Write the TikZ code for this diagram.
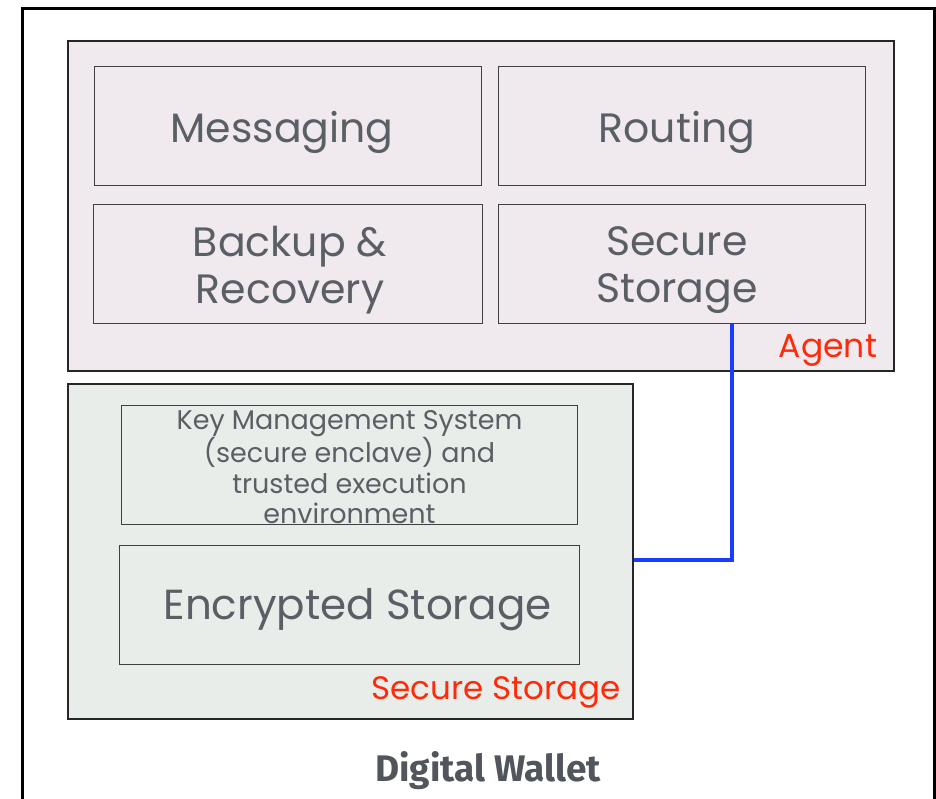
\documentclass[tikz,border=0pt]{standalone}
\usepackage{fontspec}
\setmainfont{Poppins}
\newfontfamily\titlefont{Fira Sans}
\definecolor{agentfill}{HTML}{F0E9EE}
\definecolor{ssfill}{HTML}{E8EDE9}
\definecolor{txtgray}{HTML}{5A5F66}
\definecolor{lblred}{HTML}{FF2A0A}
\definecolor{linkblue}{HTML}{1A3CFF}
\tikzset{
  outerbox/.style={draw=black!85, line width=1.8pt, inner sep=0pt},
  innerbox/.style={draw=black!75, line width=1pt, inner sep=0pt},
  boxtext/.style={text=txtgray, align=center, inner sep=0pt},
  redlabel/.style={text=lblred, inner sep=0pt, anchor=base},
}
\begin{document}
\begin{tikzpicture}[x=1pt,y=-1pt]
\useasboundingbox (0,0) rectangle (936,799);
% outer frame (open at bottom)
\draw[line width=3pt, black] (22,799) -- (22,9) -- (934,9) -- (934,799);
% Agent box
\node[outerbox, fill=agentfill, minimum width=826pt, minimum height=330pt, anchor=north west] (agent) at (67,40) {};
\node[innerbox, minimum width=387pt, minimum height=119pt, anchor=north west] (msg) at (94,66) {};
\node[innerbox, minimum width=367pt, minimum height=119pt, anchor=north west] (route) at (498,66) {};
\node[innerbox, minimum width=389pt, minimum height=119pt, anchor=north west] (backup) at (93,204) {};
\node[innerbox, minimum width=367pt, minimum height=119pt, anchor=north west] (sstore) at (498,204) {};
\node[boxtext, font=\fontsize{41}{46}\selectfont, xshift=-6pt, yshift=-6pt] (msgt) at (msg.center) {Messaging};
\node[boxtext, font=\fontsize{41}{46}\selectfont, xshift=-5pt, yshift=-6pt] (routet) at (route.center) {Routing};
\node[boxtext, font=\fontsize{41}{47}\selectfont, xshift=2pt, yshift=-6pt] (backupt) at (backup.center) {Backup \&\\Recovery};
\node[boxtext, font=\fontsize{41}{47}\selectfont, xshift=-5pt, yshift=-6pt] (sstoret) at (sstore.center) {Secure\\Storage};
\node[redlabel, font=\fontsize{33}{36}\selectfont] (agentlbl) at (828,357) {Agent};
% Secure storage box
\node[outerbox, fill=ssfill, minimum width=565pt, minimum height=335pt, anchor=north west] (ss) at (67,383) {};
\node[innerbox, minimum width=456pt, minimum height=119pt, anchor=north west] (kms) at (121,405) {};
\node[innerbox, minimum width=460pt, minimum height=119pt, anchor=north west] (enc) at (119,545) {};
\node[boxtext, font=\fontsize{27}{30.3}\selectfont, yshift=-2pt] (kmst) at (kms.center) {Key Management System\\(secure enclave) and\\trusted execution\\environment};
\node[boxtext, font=\fontsize{42}{46}\selectfont, xshift=8pt, yshift=-5pt] (enct) at (enc.center) {Encrypted Storage};
\node[redlabel, font=\fontsize{32.5}{36}\selectfont] (sslbl) at (496,699) {Secure Storage};
% connector
\coordinate (corner) at (732,560);
\draw[linkblue, line width=3.5pt] (sstore.south -| corner) -- (corner) -- (corner -| ss.east);
% title
\node[font=\titlefont\bfseries\fontsize{37}{40}\selectfont, text=txtgray!90!black, anchor=base] (title) at (488,781) {Digital Wallet};
\end{tikzpicture}
\end{document}
